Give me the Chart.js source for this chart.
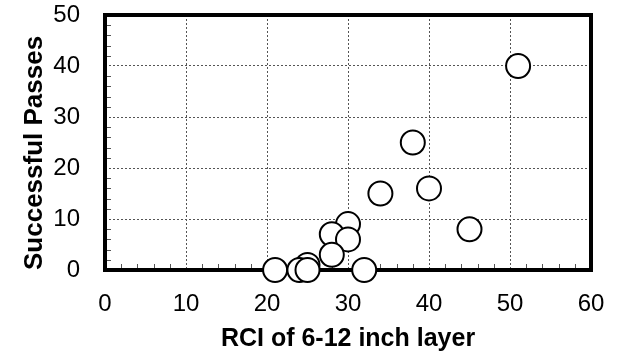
<!DOCTYPE html>
<html>
<head>
<meta charset="utf-8">
<script src="https://cdn.jsdelivr.net/npm/chart.js@4"></script>
<style>
  body { margin: 0; background: #fff; }
  #wrap { width: 620px; height: 354px; }
</style>
</head>
<body>
<div id="wrap"><canvas id="chart"></canvas></div>
<script>
// RCI values of the 6-12 inch layer and the matching successful passes
const rciValues = [51, 38, 34, 40, 45, 30, 28, 30, 28, 21, 25, 24, 25, 32];
const passValues = [40, 25, 15, 16, 8, 9, 7, 6, 3, 0, 1, 0, 0, 0];

const xTitle = "RCI of 6-12 inch layer";
const yTitle = "Successful Passes";

const points = rciValues.map((x, i) => ({ x: x, y: passValues[i] }));

// heavy black frame round the plot area, plus the small inward minor ticks
const framePlugin = {
    id: "frame",
    beforeDatasetsDraw(chart) {
        const { ctx, chartArea: a, scales } = chart;
        ctx.save();
        ctx.strokeStyle = "#555";
        ctx.lineWidth = 1;
        scales.x.ticks.forEach(t => {
            if(t.value % 10 === 0) return;
            const px = Math.round(scales.x.getPixelForValue(t.value)) + 0.5;
            ctx.beginPath();
            ctx.moveTo(px, a.bottom);
            ctx.lineTo(px, a.bottom - 6);
            ctx.stroke();
        });
        scales.y.ticks.forEach(t => {
            if(t.value % 10 === 0) return;
            const py = Math.round(scales.y.getPixelForValue(t.value)) + 0.5;
            ctx.beginPath();
            ctx.moveTo(a.left, py);
            ctx.lineTo(a.left + 6, py);
            ctx.stroke();
        });
        ctx.strokeStyle = "#000";
        ctx.lineWidth = 4;
        ctx.strokeRect(a.left, a.top, a.right - a.left, a.bottom - a.top);
        ctx.restore();
    }
};

const tickFont = { family: "'Liberation Sans', Arial, sans-serif", size: 24 };
const titleFont = { family: "'Liberation Sans', Arial, sans-serif", size: 25, weight: "bold" };

new Chart(document.getElementById("chart"), {
    type: "scatter",
    data: {
        datasets: [{
            data: points,
            pointRadius: 12,
            pointHoverRadius: 12,
            pointBorderWidth: 2,
            pointBackgroundColor: "#fff",
            pointBorderColor: "#000",
            clip: false
        }]
    },
    options: {
        responsive: true,
        maintainAspectRatio: false,
        animation: false,
        layout: { autoPadding: false, padding: { top: 15, right: 29, left: 0, bottom: 0 } },
        scales: {
            x: {
                type: "linear",
                min: 0,
                max: 60,
                afterFit: scale => {
                    scale.height = 84;
                    scale.paddingLeft = 0;
                    scale.paddingRight = 0;
                },
                ticks: {
                    stepSize: 2,
                    autoSkip: false,
                    maxRotation: 0,
                    padding: 20,
                    color: "#000",
                    font: tickFont,
                    callback: v => (v % 10 === 0 ? v : "")
                },
                grid: {
                    drawTicks: false,
                    lineWidth: 1,
                    color: ctx => (ctx.tick && ctx.tick.value % 10 === 0 && ctx.tick.value !== 0 && ctx.tick.value !== 60 ? "#555" : "transparent")
                },
                border: { display: false, dash: [2, 2] },
                title: {
                    display: true,
                    text: xTitle,
                    color: "#000",
                    font: titleFont,
                    padding: { top: 0, bottom: 0 }
                }
            },
            y: {
                type: "linear",
                min: 0,
                max: 50,
                afterFit: scale => {
                    scale.width = 105;
                    scale.paddingTop = 0;
                    scale.paddingBottom = 0;
                },
                ticks: {
                    stepSize: 2,
                    autoSkip: false,
                    padding: 25,
                    color: "#000",
                    font: tickFont,
                    callback: v => (v % 10 === 0 ? v : "")
                },
                grid: {
                    drawTicks: false,
                    lineWidth: 1,
                    color: ctx => (ctx.tick && ctx.tick.value % 10 === 0 && ctx.tick.value !== 0 && ctx.tick.value !== 50 ? "#555" : "transparent")
                },
                border: { display: false, dash: [2, 2] },
                title: {
                    display: true,
                    text: yTitle,
                    align: "start",
                    color: "#000",
                    font: { family: titleFont.family, size: 26, weight: "bold" },
                    padding: { top: 19, bottom: 0 }
                }
            }
        },
        plugins: {
            legend: { display: false },
            tooltip: { enabled: false }
        }
    },
    plugins: [framePlugin]
});
</script>
</body>
</html>
